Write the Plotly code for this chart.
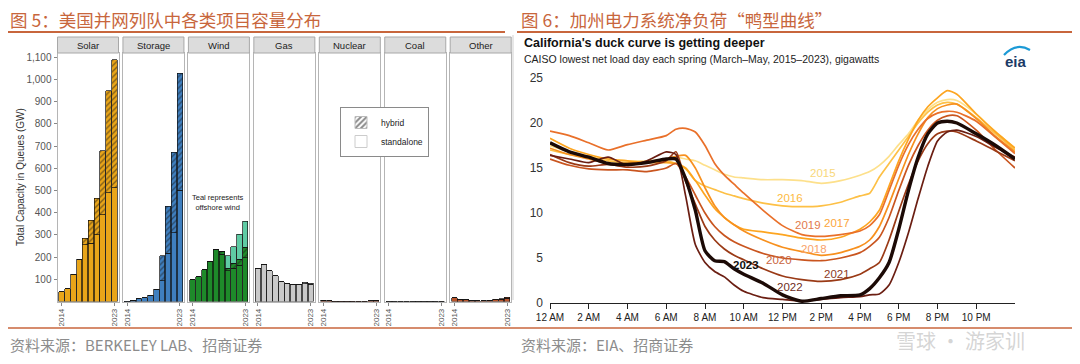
import plotly.graph_objects as go

# the page adds an 8px body margin, so the figure is drawn 8px in and 16px smaller
OFF = 8
W, H = 1080 - 2 * OFF, 364 - 2 * OFF
def fx(px): return (px - OFF) / W
def fy(py): return 1 - (py - OFF) / H

# ---------------- left chart data (GW) ----------------
years = [str(y) for y in range(2014, 2024)]
techs = ["Solar", "Storage", "Wind", "Gas", "Nuclear", "Coal", "Other"]
tech_colors = ["#E9A519", "#3F7FBF", "#1E8A2A", "#C9C9C9", "#B94A26", "#7A7A7A", "#B9552C"]
offshore_color = "#5FCBA4"

solar_standalone = [45, 57, 122, 190, 255, 262, 300, 390, 490, 512]
solar_hybrid = [0, 0, 0, 0, 30, 105, 165, 288, 458, 576]
storage_standalone = [1, 6, 12, 18, 28, 56, 94, 218, 310, 502]
storage_hybrid = [0, 0, 0, 0, 0, 0, 112, 210, 362, 526]
wind_standalone = [97, 111, 143, 182, 232, 212, 138, 150, 163, 197]
wind_hybrid = [0, 0, 0, 0, 0, 14, 12, 22, 27, 47]
wind_offshore = [0, 0, 0, 0, 0, 0, 56, 75, 112, 118]
gas_standalone = [150, 168, 138, 116, 90, 83, 75, 78, 80, 78]
gas_hybrid = [0, 0, 0, 0, 0, 0, 0, 0, 7, 5]
nuclear_standalone = [5, 4, 0.6, 0.3, 0.3, 0.5, 1, 2, 2.5, 5]
nuclear_hybrid = [0, 0, 0, 0, 0, 0, 0, 0, 0, 0]
coal_standalone = [2, 1.5, 1, 0.6, 0.5, 0.3, 0.3, 0.5, 0.5, 1]
coal_hybrid = [0, 0, 0, 0, 0, 0, 0, 0, 0, 0]
other_standalone = [18, 10, 7, 4, 3, 3, 5, 9, 10, 15]
other_hybrid = [0, 0, 0, 0, 0, 0, 1, 2, 3, 5]

standalone = [solar_standalone, storage_standalone, wind_standalone, gas_standalone,
              nuclear_standalone, coal_standalone, other_standalone]
hybrid = [solar_hybrid, storage_hybrid, wind_hybrid, gas_hybrid,
          nuclear_hybrid, coal_hybrid, other_hybrid]
y_ticks = list(range(100, 1200, 100))

# ---------------- right chart data (GW) ----------------
hours = [0, 1, 2, 3, 4, 5, 6, 6.5, 7, 7.5, 8, 8.5, 9, 9.5, 10, 11, 12, 13, 14, 15, 16,
         16.5, 17, 17.5, 18, 18.5, 19, 19.5, 20, 20.5, 21, 22, 23, 24]
duck_years = ["2015", "2016", "2017", "2018", "2019", "2020", "2021", "2022", "2023"]
load_2015 = [17.5, 16.8, 16.3, 16.0, 15.8, 15.8, 16.0, 16.2, 16.0, 15.8, 15.3, 14.8, 14.3, 14.0, 13.9,
             13.7, 13.7, 13.6, 13.3, 13.6, 14.2, 14.6, 15.3, 16.3, 17.6, 18.8, 20.3, 21.5, 22.3, 22.6,
             22.5, 21.0, 19.0, 17.2]
load_2016 = [17.0, 16.5, 16.2, 15.8, 15.6, 15.6, 15.8, 15.5, 14.9, 13.6, 13.0, 12.6, 12.2, 11.9, 11.6,
             11.1, 10.8, 10.7, 10.8, 11.2, 11.9, 12.2, 14.0, 15.5, 17.0, 18.5, 20.0, 21.2, 22.0, 22.3,
             22.1, 20.6, 18.8, 17.0]
load_2017 = [18.3, 17.2, 16.5, 16.0, 15.8, 15.6, 15.6, 15.5, 15.0, 13.6, 12.0, 10.5, 9.5, 8.7, 8.2,
             7.9, 7.6, 7.2, 7.0, 7.3, 8.2, 9.0, 10.3, 13.0, 15.8, 18.2, 20.3, 21.8, 22.8, 23.6,
             23.2, 21.0, 19.0, 17.2]
load_2018 = [17.2, 16.5, 16.0, 15.5, 15.5, 15.7, 16.0, 16.3, 16.4, 15.0, 12.8, 10.8, 9.5, 8.7, 8.0,
             7.0, 6.2, 5.7, 5.3, 5.6, 6.3, 7.0, 8.5, 11.0, 13.8, 16.5, 18.8, 20.6, 21.6, 22.0,
             22.1, 20.5, 18.5, 16.8]
load_2019 = [19.1, 18.6, 17.8, 17.0, 17.6, 18.1, 18.6, 19.3, 19.4, 19.0, 17.5, 15.5, 14.2, 13.2, 12.2,
             10.3, 8.6, 7.6, 7.4, 7.6, 8.0, 8.6, 9.8, 12.5, 15.3, 17.6, 19.3, 20.5, 21.1, 21.3,
             21.2, 20.2, 18.4, 16.6]
load_2020 = [16.0, 15.3, 14.9, 14.8, 14.8, 14.6, 15.0, 15.5, 14.0, 12.0, 10.0, 8.5, 7.5, 6.8, 6.3,
             5.5, 5.0, 4.8, 4.7, 5.0, 5.6, 6.3, 7.3, 9.5, 12.5, 15.3, 17.5, 19.2, 20.3, 20.8,
             20.8, 19.2, 17.0, 15.0]
load_2021 = [16.5, 15.6, 15.2, 15.4, 15.1, 15.2, 15.8, 16.8, 13.5, 11.0, 8.5, 7.0, 6.0, 5.3, 4.8,
             3.8, 3.0, 2.6, 2.4, 2.6, 3.2, 3.8, 4.5, 7.0, 10.2, 13.2, 15.8, 17.7, 18.8, 19.1,
             19.0, 18.0, 16.9, 15.8]
load_2022 = [16.4, 16.0, 15.6, 16.2, 15.3, 15.8, 16.8, 16.5, 11.9, 6.5, 4.5, 3.5, 2.9, 2.0, 1.3,
             0.6, 0.4, 0.2, 0.4, 0.6, 0.7, 0.9, 1.0, 2.0, 4.5, 7.8, 11.6, 15.2, 18.0, 19.0,
             19.2, 18.5, 17.3, 16.2]
load_2023 = [17.8, 16.8, 16.2, 15.5, 15.4, 15.6, 16.0, 16.0, 13.8, 10.3, 5.8, 4.7, 4.6, 3.8, 3.2,
             2.2, 0.9, 0.2, 0.5, 0.8, 0.9, 1.6, 2.8, 4.5, 8.2, 12.5, 16.2, 18.8, 20.0, 20.2,
             20.0, 18.8, 17.5, 16.0]
loads = [load_2015, load_2016, load_2017, load_2018, load_2019, load_2020, load_2021, load_2022, load_2023]
line_colors = ["#FDE08B", "#FDC046", "#FDA520", "#F7901E", "#E9702A", "#C9551F", "#9A3A16", "#6B1E12", "#1C0A06"]
label_colors = ["#F8D77A", "#FDBA3E", "#FBA53A", "#F9A26A", "#E27A4C", "#C9653E", "#8E3A1E", "#6E2C22", "#111111"]
label_hour = [14.1, 12.4, 14.8, 13.6, 13.3, 11.8, 14.8, 12.4, 10.1]
label_value = [14.4, 11.7, 8.9, 6.0, 8.7, 4.8, 3.2, 1.8, 4.2]
hour_ticks = [0, 2, 4, 6, 8, 10, 12, 14, 16, 18, 20, 22]
hour_labels = ["12 AM", "2 AM", "4 AM", "6 AM", "8 AM", "10 AM", "12 PM", "2 PM", "4 PM", "6 PM", "8 PM", "10 PM"]

ACCENT = "#C8663C"
fig = go.Figure()
layout = dict(
    template="none",
    width=W, height=H, margin=dict(l=0, r=0, t=0, b=0, autoexpand=False),
    paper_bgcolor="white", plot_bgcolor="white",
    barmode="stack", bargap=0.08,
    font=dict(family="Liberation Sans, Arial, sans-serif", color="#333"),
    showlegend=True,
    legend=dict(x=fx(340), y=fy(107), xanchor="left", yanchor="top", traceorder="normal",
                bgcolor="white", bordercolor="#8A8A8A", borderwidth=1,
                font=dict(size=8.5, color="#222"), tracegroupgap=0, itemwidth=30),
)

shapes = []
annotations = []

def note(text, px, py, size, color, xanchor="center", family=None, **kw):
    f = dict(size=size, color=color)
    if family:
        f["family"] = family
    annotations.append(dict(text=text, x=fx(px), y=fy(py), xref="paper", yref="paper",
                            xanchor=xanchor, yanchor="middle", showarrow=False, font=f, **kw))

panel_left, panel_w, panel_step = 57.5, 61, 65.45
ptop, pbot = 53, 301.5

def hatch(c):
    return dict(shape="/", fgcolor="#1a1a1a", bgcolor=c, size=4, solidity=0.35, fillmode="overlay")

for i, t in enumerate(techs):
    k = "" if i == 0 else str(i + 1)
    xa, ya = "x" + k, "y" + k
    c = tech_colors[i]
    line = dict(color="#111", width=0.7)
    fig.add_trace(go.Bar(x=years, y=standalone[i], xaxis=xa, yaxis=ya, marker=dict(color=c, line=line),
                         showlegend=False, hoverinfo="skip"))
    fig.add_trace(go.Bar(x=years, y=hybrid[i], xaxis=xa, yaxis=ya,
                         marker=dict(color=c, line=line, pattern=hatch(c)),
                         showlegend=False, hoverinfo="skip"))
    if t == "Wind":
        fig.add_trace(go.Bar(x=years, y=wind_offshore, xaxis=xa, yaxis=ya,
                             marker=dict(color=offshore_color, line=line), showlegend=False, hoverinfo="skip"))
    x0 = panel_left + i * panel_step
    x1 = x0 + panel_w
    layout["xaxis" + k] = dict(domain=[fx(x0), fx(x1)], anchor=ya, type="category", automargin=False,
                               range=[-0.7, 9.7], tickvals=["2014", "2023"], ticktext=["2014", "2023"],
                               tickangle=-90, tickfont=dict(size=8, color="#555"),
                               ticks="outside", ticklen=3, tickcolor="#888",
                               showline=True, mirror=True, linecolor="#B5B5B5", linewidth=1,
                               showgrid=False, zeroline=False, fixedrange=True)
    layout["yaxis" + k] = dict(domain=[fy(pbot), fy(ptop)], anchor=xa, range=[0, 1119], automargin=False,
                               tickvals=y_ticks if i == 0 else [],
                               ticktext=[f"{v:,}" for v in y_ticks] if i == 0 else [],
                               ticks="outside" if i == 0 else "", ticklen=3, tickcolor="#888",
                               tickfont=dict(size=10, color="#555"),
                               showline=True, mirror=True, linecolor="#B5B5B5", linewidth=1,
                               showgrid=False, zeroline=False, fixedrange=True)
    shapes.append(dict(type="rect", xref="paper", yref="paper", x0=fx(x0), x1=fx(x1),
                       y0=fy(ptop), y1=fy(37), fillcolor="#DCDCDC", line=dict(color="#A8A8A8", width=1)))
    note(t, (x0 + x1) / 2, 45, 9.5, "#222")

# legend-only traces
fig.add_trace(go.Bar(x=[None], y=[None], name="hybrid", xaxis="x5", yaxis="y5",
                     marker=dict(color="white", line=dict(color="#BBBBBB", width=1),
                                 pattern=dict(shape="/", fgcolor="#111", bgcolor="white", size=5,
                                              solidity=0.5, fillmode="overlay"))))
fig.add_trace(go.Bar(x=[None], y=[None], name="standalone", xaxis="x5", yaxis="y5",
                     marker=dict(color="white", line=dict(color="#CCCCCC", width=1))))

note("Total Capacity in Queues (GW)", 20, 177, 10, "#333", textangle=-90)
note("Teal represents<br>offshore wind", 218, 202, 7.5, "#222")

# ---------------- right chart ----------------
for j, yr in enumerate(duck_years):
    fig.add_trace(go.Scatter(x=hours, y=loads[j], xaxis="x8", yaxis="y8", mode="lines",
                             line=dict(color=line_colors[j], width=3.4 if yr == "2023" else 1.7,
                                       shape="spline", smoothing=0.6),
                             showlegend=False, hoverinfo="skip"))
    annotations.append(dict(text=f"<b>{yr}</b>" if yr == "2023" else yr, x=label_hour[j], y=label_value[j],
                            xref="x8", yref="y8", xanchor="center", yanchor="middle", showarrow=False,
                            font=dict(size=11.5, color=label_colors[j])))

layout["xaxis8"] = dict(domain=[fx(550), fx(1015)], anchor="y8", range=[0, 24], automargin=False,
                        tickvals=hour_ticks, ticktext=hour_labels, tickfont=dict(size=10, color="#222"),
                        ticks="outside", ticklen=5, tickcolor="#222", showline=True, linecolor="#222",
                        linewidth=1, showgrid=False, zeroline=False, fixedrange=True)
layout["yaxis8"] = dict(domain=[fy(303), fy(78)], anchor="x8", range=[0, 25], automargin=False,
                        tickvals=[0, 5, 10, 15, 20, 25], tickfont=dict(size=12, color="#333"),
                        ticklabelstandoff=6, showline=False, showgrid=False, zeroline=False, fixedrange=True)

note("<b>California's duck curve is getting deeper</b>", 522, 43, 12.5, "#111", xanchor="left")
note("CAISO lowest net load day each spring (March\u2013May, 2015\u20132023), gigawatts",
     522, 59, 10.5, "#222", xanchor="left")
# eia logo
note("<b>eia</b>", 1016, 61, 15, "#1B3A66")
shapes.append(dict(type="path", xref="paper", yref="paper",
                   path=f"M {fx(1004)},{fy(55)} Q {fx(1016)},{fy(42)} {fx(1030)},{fy(50)}",
                   line=dict(color="#1C9AD6", width=2.2)))

# frame of right picture
shapes.append(dict(type="line", xref="paper", yref="paper", x0=fx(513), x1=fx(513), y0=fy(300), y1=fy(35),
                   line=dict(color="#CFCFCF", width=1)))

# ---------------- report titles, rules, sources ----------------
CJK = "Noto Sans CJK SC"
note("图 5：美国并网列队中各类项目容量分布", 8, 20, 17.5, ACCENT, xanchor="left", family=CJK)
note("图 6：加州电力系统净负荷“鸭型曲线”", 519, 20, 17.5, ACCENT, xanchor="left", family=CJK)
shapes.append(dict(type="line", xref="paper", yref="paper", x0=fx(8), x1=fx(505), y0=fy(32), y1=fy(32),
                   line=dict(color=ACCENT, width=2)))
shapes.append(dict(type="line", xref="paper", yref="paper", x0=fx(517), x1=fx(1072), y0=fy(32), y1=fy(32),
                   line=dict(color=ACCENT, width=2)))
shapes.append(dict(type="line", xref="paper", yref="paper", x0=fx(8), x1=fx(1072), y0=fy(328), y1=fy(328),
                   line=dict(color=ACCENT, width=1.6)))
note("资料来源：BERKELEY LAB、招商证券", 8, 344, 15, "#8C8C8C", xanchor="left", family=CJK)
note("资料来源：EIA、招商证券", 519, 344, 15, "#8C8C8C", xanchor="left", family=CJK)
note("雪球 · 游家训", 960, 340, 20, "rgba(195,195,195,0.7)", family=CJK)

layout["shapes"] = shapes
layout["annotations"] = annotations
fig.update_layout(**layout)
fig.write_html("out.html")
